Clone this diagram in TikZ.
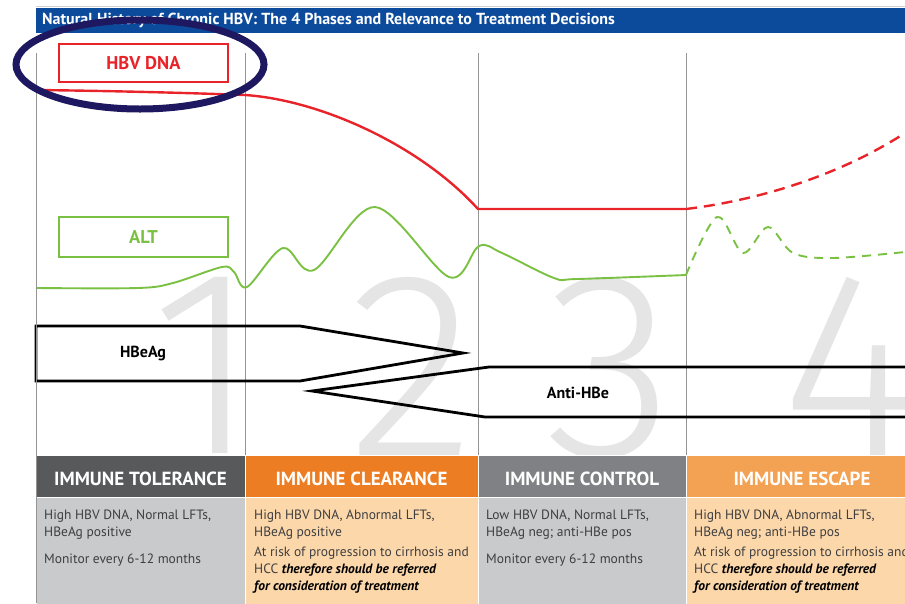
\documentclass[tikz,border=0pt]{standalone}
\usepackage{fontspec}
\setmainfont{PT Sans}
\newfontfamily\numfont{Fira Sans Light}
\usepackage{xcolor}
\usepackage{tikz}
\usetikzlibrary{positioning}
\definecolor{hdrblue}{RGB}{12,74,156}
\definecolor{dnared}{RGB}{232,36,42}
\definecolor{altgreen}{RGB}{122,193,67}
\definecolor{ringnavy}{RGB}{30,24,96}
\definecolor{numgray}{RGB}{229,229,229}
\definecolor{phaseDark}{RGB}{88,89,91}
\definecolor{phaseOrange}{RGB}{236,125,34}
\definecolor{phaseGray}{RGB}{128,129,132}
\definecolor{phaseLtOrange}{RGB}{243,161,82}
\definecolor{cellGray}{RGB}{201,202,204}
\definecolor{cellPeach}{RGB}{252,215,170}
\definecolor{bodytext}{RGB}{62,62,64}
\tikzset{
  divider/.style={draw=black!42, line width=0.9pt},
  phaseNum/.style={anchor=north, inner sep=0pt, text=numgray, font=\numfont\fontsize{265}{265}\selectfont},
  titleText/.style={anchor=west, inner sep=0pt, text=white, font=\bfseries\fontsize{16}{16}\selectfont},
  labelBox/.style={draw, line width=1.8pt, minimum width=169pt, inner sep=0pt,
                   font=\bfseries\fontsize{18.5}{18.5}\selectfont},
  dnaLine/.style={draw=dnared, line width=2.4pt},
  dnaDash/.style={dash pattern=on 11pt off 7pt},
  altLine/.style={draw=altgreen, line width=1.9pt},
  altDash/.style={dash pattern=on 9pt off 7pt},
  markerArrow/.style={draw=black, line width=2.8pt, line join=miter},
  markerText/.style={font=\bfseries\fontsize{16}{16}\selectfont},
  ring/.style={draw=ringnavy, line width=7pt},
  headCell/.style={draw=white, line width=0.8pt},
  headText/.style={text=white, font=\bfseries\fontsize{19}{19}\selectfont},
  bodyText/.style={anchor=north west, inner sep=0pt, align=left, text=bodytext,
                   font=\fontsize{13.5}{17}\selectfont}
}
\newcommand{\Refer}{\textcolor{black}{\bfseries\itshape therefore should be referred}}
\newcommand{\ReferB}{\textcolor{black}{\bfseries\itshape for consideration of treatment}}

\begin{document}
\begin{tikzpicture}[x=1pt,y=-1pt]
  \useasboundingbox (0,0) rectangle (905,603);
  \clip (0,0) rectangle (905,603);
  % big phase numbers in the background
  \foreach \n/\nx in {1/205,2/412,3/610,4/850}
    \node[phaseNum] (num\n) at (\nx,277) {\n};
  % title bar
  \draw[black!18, line width=0.6pt] (36,6) -- (905,6);
  \fill[hdrblue] (36,8) rectangle (905,33);
  \node[titleText] (title) at (42,20.5)
    {Natural History of Chronic HBV: The 4 Phases and Relevance to Treatment Decisions};
  % phase dividers
  \foreach \x in {245,478,686}
    \draw[divider] (\x,53) -- (\x,455);
  % HBV DNA curve
  \draw[dnaLine] (36,90) .. controls (120,91) and (190,93) .. (245,95)
    .. controls (320,100) and (420,145) .. (478,209) -- (686,209);
  \draw[dnaLine, dnaDash] (686,209) .. controls (760,200) and (840,175) .. (905,133);
  % ALT curve
  \draw[altLine] plot[smooth, tension=0.55] coordinates {
    (36,288) (138,288) (173,283) (222,267) (234,272) (247,287) (283,248) (314,270)
    (375,207) (449,277) (479,246) (502,253) (554,278) (577,279) (686,275)};
  \draw[altLine, altDash] plot[smooth, tension=0.55] coordinates {
    (686,275) (717,217) (743,253) (768,227) (793,253) (833,258) (905,252)};
  % legend boxes
  \node[labelBox, draw=dnared, text=dnared, minimum height=38pt] (dnaBox) at (143.5,63) {HBV DNA};
  \node[labelBox, draw=altgreen, text=altgreen, minimum height=40pt] (altBox) at (143.5,237) {ALT};
  % serology arrows
  \draw[markerArrow] (36,326) -- (300,326) -- (463,353) -- (300,381) -- (36,381) -- cycle;
  \node[markerText] (hbeag) at (143,354) {HBeAg};
  \draw[markerArrow] (912,367) -- (489,367) -- (312,391) -- (485,417) -- (912,417);
  \node[markerText] (antihbe) at (578,393) {Anti-HBe};
  % phase table
  \foreach \i/\xa/\xb/\hc/\bc/\cx/\txt in {
      1/36/245/phaseDark/cellGray/140.5/IMMUNE TOLERANCE,
      2/245/478/phaseOrange/cellPeach/361.5/IMMUNE CLEARANCE,
      3/478/686/phaseGray/cellGray/582/IMMUNE CONTROL,
      4/686/920/phaseLtOrange/cellPeach/802/IMMUNE ESCAPE}{
    \filldraw[headCell, fill=\hc] (\xa,455) rectangle (\xb,497);
    \filldraw[headCell, fill=\bc] (\xa,497) rectangle (\xb,610);
    \node[headText] (phase\i) at (\cx,478.5) {\txt};
  }
  \draw[divider] (36,53) -- (36,603);
  \node[bodyText] (tolA) at (44,510) {High HBV DNA, Normal LFTs,\\HBeAg positive};
  \node[bodyText] (tolB) at (44,554) {Monitor every 6-12 months};
  \node[bodyText] (clrA) at (254,510) {High HBV DNA, Abnormal LFTs,\\HBeAg positive};
  \node[bodyText] (clrB) at (254,547) {At risk of progression to cirrhosis and\\HCC \Refer\\\ReferB};
  \node[bodyText] (conA) at (486,510) {Low HBV DNA, Normal LFTs,\\HBeAg neg; anti-HBe pos};
  \node[bodyText] (conB) at (486,554) {Monitor every 6-12 months};
  \node[bodyText] (escA) at (694,510) {High HBV DNA, Abnormal LFTs,\\HBeAg neg; anti-HBe pos};
  \node[bodyText] (escB) at (694,547) {At risk of progression to cirrhosis and\\HCC \Refer\\\ReferB};
  % highlight ring
  \draw[ring] (140,64.5) ellipse (124 and 44.5);
\end{tikzpicture}
\end{document}
